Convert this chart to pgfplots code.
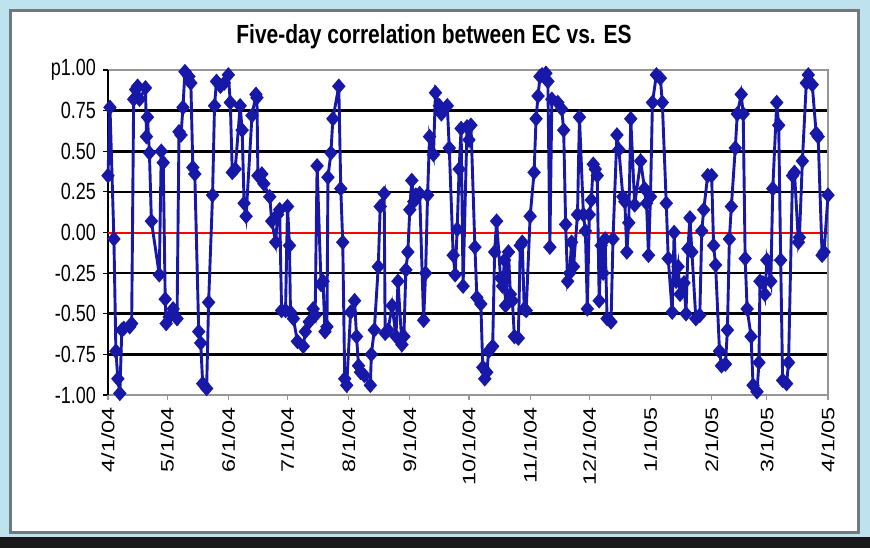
\documentclass[border=0pt]{standalone}
\usepackage{pgfplots}
\pgfplotsset{compat=1.18}
\usepackage{pgfplotstable}
\usepackage{graphicx}
\usepackage{fontspec}
\setmainfont{Liberation Sans}
\definecolor{frameblue}{RGB}{190,226,238}
\definecolor{panelgray}{RGB}{112,120,128}
\definecolor{seriesblue}{RGB}{24,24,168}
\definecolor{boxgray}{RGB}{150,150,150}
% the source chart's text is stretched lengthwise/tall
\newcommand{\xl}[1]{\scalebox{1.3}[1]{#1}}
\newcommand{\yl}[1]{\scalebox{1}[1.3]{#1}}

% day = days after 4/1/04, val = five-day correlation
\pgfplotstableread{
day val
0 0.35
1 0.77
3 -0.04
4 -0.73
5 -0.90
6 -0.99
7 -0.60
8 -0.59
11 -0.58
12 -0.56
13 0.82
14 0.88
15 0.90
16 0.82
19 0.89
19.5 0.59
20 0.71
21 0.49
22 0.07
26 -0.26
27 0.50
28 0.43
29 -0.41
29.5 -0.56
31 -0.52
33 -0.47
35 -0.53
36 0.62
37 0.60
38 0.77
39 0.99
41 0.96
42 0.92
43 0.40
44 0.36
46 -0.61
47 -0.68
48 -0.93
50 -0.96
51 -0.43
53 0.23
54 0.78
55 0.93
57 0.90
59 0.92
61 0.97
62 0.80
63 0.37
64.5 0.39
67 0.78
68 0.63
69 0.18
70 0.10
73 0.72
75 0.85
75.5 0.83
76 0.35
78 0.36
79 0.30
82 0.22
83 0.07
85 -0.06
86 0.11
87 0.14
88 -0.48
90 -0.48
91 0.16
92 -0.08
92.5 -0.49
94 -0.53
96 -0.67
99 -0.70
100 -0.61
102 -0.55
104 -0.47
105 -0.51
106 0.41
108 -0.32
109 -0.30
110 -0.61
111 -0.58
111.5 0.34
113 0.49
114 0.70
117 0.90
118 0.27
119 -0.06
120 -0.90
121 -0.94
123 -0.49
125 -0.42
126 -0.64
127 -0.82
128 -0.86
130 -0.88
133 -0.94
133.5 -0.75
135 -0.60
137 -0.21
138 0.16
140 0.24
140.5 -0.62
142 -0.60
144 -0.45
146 -0.64
147 -0.30
149 -0.69
150 -0.64
151 -0.23
152 -0.12
153 0.14
154 0.32
155 0.19
156 0.23
158 0.24
160 -0.54
161 -0.25
162 0.23
163 0.59
165 0.48
166 0.86
168 0.78
169 0.73
172 0.78
173 0.52
175 -0.14
176 -0.26
177 0.02
178 0.39
179 0.64
180 -0.33
182 0.65
183 0.57
184 0.66
186 -0.09
187 -0.40
189 -0.44
190 -0.83
191 -0.90
192 -0.86
193 -0.73
195 -0.70
196 -0.12
197 0.07
199 -0.28
200 -0.33
201 -0.17
201.5 -0.45
203 -0.12
204 -0.38
205 -0.42
206 -0.64
208 -0.65
209 -0.08
210 -0.06
211 -0.47
212 -0.48
214 0.10
216 0.37
217 0.70
218 0.84
219 0.96
220 0.97
222 0.98
223 0.93
224 -0.09
225 0.82
228 0.80
230 0.76
231 0.63
232 0.05
233 -0.30
234 -0.25
235 -0.06
236 -0.21
238 0.11
239 0.71
241 0.11
242 0.01
243 -0.47
244 0.11
245 0.20
246 0.42
247 0.39
248 0.35
249 -0.42
250 -0.08
251 -0.25
252 -0.04
253 -0.53
255 -0.55
256 -0.04
258 0.60
259 0.51
261 0.22
262 0.19
263 -0.12
264 0.06
265 0.70
267 0.17
270 0.44
272 0.27
273 0.18
274 -0.14
275 0.22
276 0.80
278 0.97
280 0.95
281 0.80
283 0.18
284 -0.16
286 -0.49
287 0.00
288 -0.30
289 -0.21
290 -0.38
292 -0.31
293 -0.50
294 -0.10
295 0.09
296 -0.12
298 -0.53
300 -0.51
301 0.01
302 0.14
304 0.35
306 0.35
307 -0.08
308 -0.20
310 -0.73
311 -0.82
313 -0.81
314 -0.60
315 -0.04
316 0.16
318 0.52
319 0.73
321 0.85
322 0.73
323 -0.16
324 -0.47
326 -0.64
327 -0.94
329 -0.98
330 -0.80
330.5 -0.30
332 -0.31
333 -0.38
334 -0.17
336 -0.30
337 0.27
339 0.80
340 0.66
341 -0.17
342 -0.91
344 -0.93
345 -0.80
347 0.35
348 0.37
350 -0.06
350.5 -0.03
352 0.44
354 0.92
355 0.97
357 0.91
359 0.61
360 0.59
362 -0.14
363 -0.12
365 0.23
}\corrdata

\begin{document}
\begin{tikzpicture}
  \useasboundingbox (0,0) rectangle (435pt,274pt);
  \fill[frameblue] (0,0) rectangle (435pt,274pt);
  \fill[black!90] (0,0) rectangle (435pt,5.5pt);
  \draw[panelgray, line width=1.5pt, fill=white] (5pt,8pt) rectangle (429pt,269pt);
  \node[font=\bfseries\fontsize{10.5}{12}\selectfont] at (217pt,255.5pt)
    {\scalebox{1}[1.25]{Five-day correlation between EC vs. ES}};
  \begin{axis}[
    at={(54pt,76.5pt)}, anchor=south west,
    scale only axis, width=360pt, height=162.5pt,
    xmin=0, xmax=365, ymin=-1, ymax=1,
    clip=false,
    axis line style={draw=boxgray, line width=0.8pt},
    ytick={-1,-0.75,-0.5,-0.25,0.25,0.5,0.75},
    yticklabels={\yl{-1.00},\yl{-0.75},\yl{-0.50},\yl{-0.25},\yl{0.25},\yl{0.50},\yl{0.75}},
    extra y ticks={0,1},
    extra y tick labels={\yl{0.00},\yl{p1.00}},
    extra y tick style={grid=none},
    ymajorgrids,
    major grid style={black, line width=1.3pt},
    xtick={0,30,61,91,122,153,183,214,244,275,306,334,365},
    xticklabels={\xl{4/1/04},\xl{5/1/04},\xl{6/1/04},\xl{7/1/04},\xl{8/1/04},\xl{9/1/04},\xl{10/1/04},\xl{11/1/04},\xl{12/1/04},\xl{1/1/05},\xl{2/1/05},\xl{3/1/05},\xl{4/1/05}},
    xticklabel style={rotate=90, anchor=east, font=\fontsize{9}{10}\selectfont},
    yticklabel style={font=\fontsize{9}{10}\selectfont},
    xtick pos=lower, ytick pos=left,
    tick align=outside,
    major tick length=2.5pt,
    y tick style={black, line width=0.6pt},
    x tick style={boxgray, line width=0.6pt},
  ]
    \draw[black, line width=1.4pt] (rel axis cs:0,0) -- (rel axis cs:0,1);
    \addplot[red, line width=1pt, forget plot] coordinates {(0,0) (365,0)};
    \addplot[seriesblue, line width=1.45pt, mark=diamond*, mark size=2.8pt,
      mark options={solid, xscale=1.15}] table[x=day, y=val] {\corrdata};
  \end{axis}
\end{tikzpicture}
\end{document}
